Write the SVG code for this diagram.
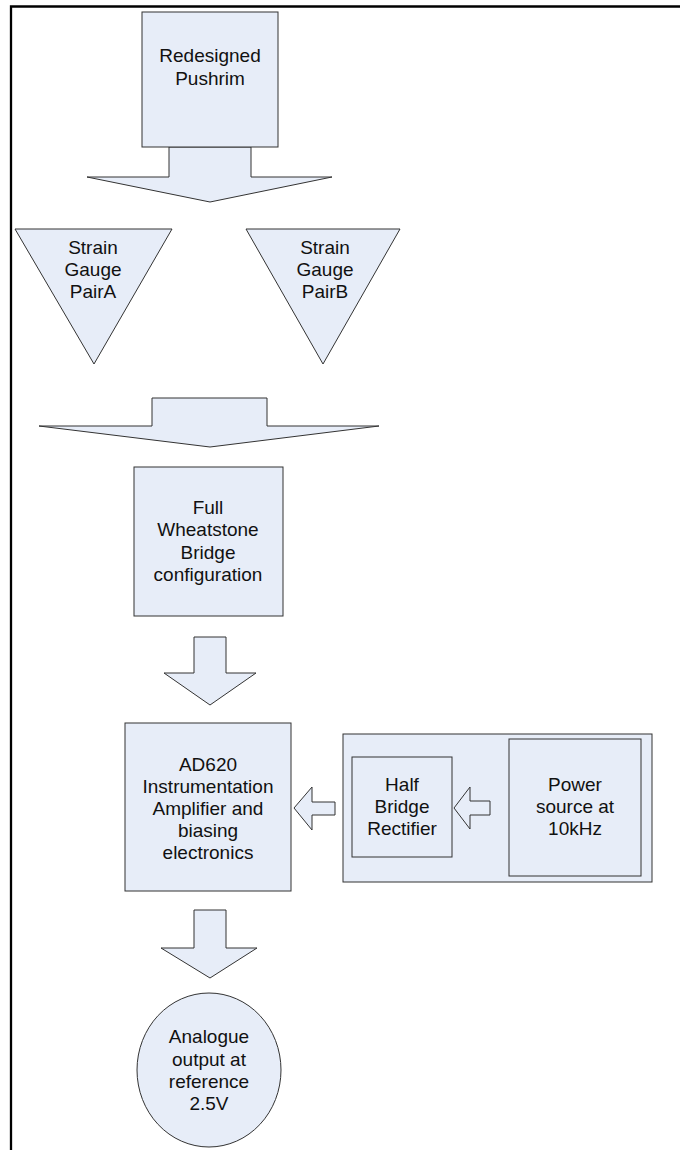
<svg xmlns="http://www.w3.org/2000/svg" width="680" height="1150" viewBox="0 0 680 1150">
  <style>
    .shape { fill: #E7EDF8; stroke: #333; stroke-width: 1; }
    .lbl { font-family: "Liberation Sans", Arial, sans-serif; font-size: 19px; fill: #111; text-anchor: middle; }
    .frame { fill: none; stroke: #000; stroke-width: 2.3; }
  </style>
  <rect x="0" y="0" width="680" height="1150" fill="#fff"/>
  <!-- page frame -->
  <path class="frame" d="M11,1150 V6.5 H680"/>

  <!-- connectors: block arrows between stages -->
  <g id="connectors">
    <polygon class="shape" points="169,147 251,147 251,177 332,177 210,202 87,177 169,177"/>
    <polygon class="shape" points="152,398 267,398 267,426 379,426 210,447 39,426 152,426"/>
    <polygon class="shape" points="194,637 226,637 226,673 256,673 210,705 164,673 194,673"/>
    <polygon class="shape" points="194,910 226,910 226,948 257,948 210,978 161,948 194,948"/>
    <polygon class="shape" points="335,802 312,802 312,787 294,808 312,830 312,815 335,815"/>
  </g>

  <g id="pushrim">
    <rect class="shape" x="142" y="12" width="136" height="135"/>
    <text class="lbl" x="210" y="62">Redesigned</text>
    <text class="lbl" x="210" y="85">Pushrim</text>
  </g>

  <g id="gauge-a">
    <polygon class="shape" points="15,229 172,229 94,364"/>
    <text class="lbl" x="93" y="254">Strain</text>
    <text class="lbl" x="93" y="276">Gauge</text>
    <text class="lbl" x="93" y="298">PairA</text>
  </g>

  <g id="gauge-b">
    <polygon class="shape" points="246,229 400,229 323,364"/>
    <text class="lbl" x="325" y="254">Strain</text>
    <text class="lbl" x="325" y="276">Gauge</text>
    <text class="lbl" x="325" y="298">PairB</text>
  </g>

  <g id="wheatstone">
    <rect class="shape" x="134" y="467" width="149" height="149"/>
    <text class="lbl" x="208" y="514">Full</text>
    <text class="lbl" x="208" y="536">Wheatstone</text>
    <text class="lbl" x="208" y="559">Bridge</text>
    <text class="lbl" x="208" y="581">configuration</text>
  </g>

  <g id="amplifier">
    <rect class="shape" x="125" y="723" width="166" height="168"/>
    <text class="lbl" x="208" y="771">AD620</text>
    <text class="lbl" x="208" y="793">Instrumentation</text>
    <text class="lbl" x="208" y="815">Amplifier and</text>
    <text class="lbl" x="208" y="837">biasing</text>
    <text class="lbl" x="208" y="859">electronics</text>
  </g>

  <g id="power-supply">
    <rect class="shape" x="343" y="734" width="309" height="148"/>
    <g id="power-source">
      <rect class="shape" x="509" y="739" width="132" height="137"/>
      <text class="lbl" x="575" y="791">Power</text>
      <text class="lbl" x="575" y="813">source at</text>
      <text class="lbl" x="575" y="835">10kHz</text>
    </g>
    <g id="rectifier">
      <rect class="shape" x="352" y="757" width="100" height="100"/>
      <text class="lbl" x="402" y="791">Half</text>
      <text class="lbl" x="402" y="813">Bridge</text>
      <text class="lbl" x="402" y="835">Rectifier</text>
    </g>
    <polygon class="shape" points="490,801 470,801 470,787 454,808 470,829 470,815 490,815"/>
  </g>

  <g id="output">
    <ellipse class="shape" cx="209" cy="1070" rx="72" ry="77"/>
    <text class="lbl" x="209" y="1043">Analogue</text>
    <text class="lbl" x="209" y="1066">output at</text>
    <text class="lbl" x="209" y="1088">reference</text>
    <text class="lbl" x="209" y="1110">2.5V</text>
  </g>
</svg>
